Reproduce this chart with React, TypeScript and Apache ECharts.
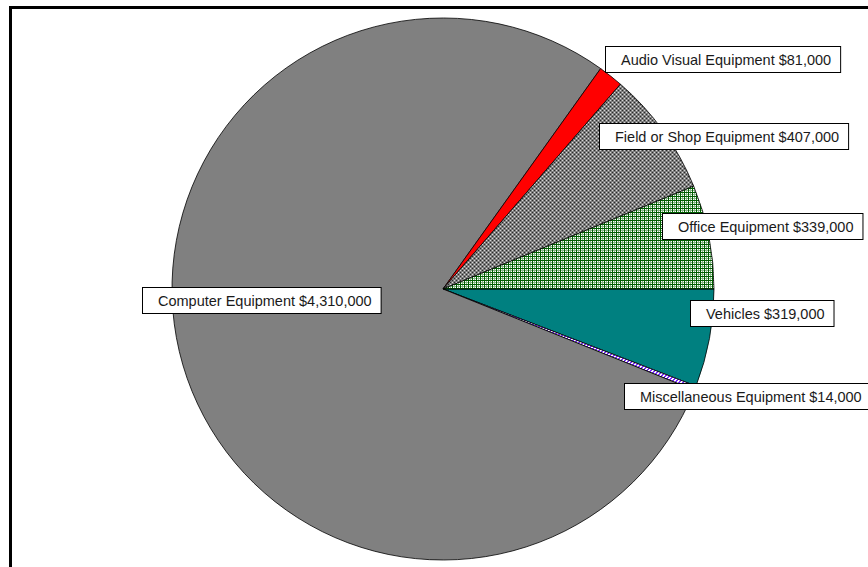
import React, { useEffect, useRef } from "react";
import * as echarts from "echarts";

const categories = [
  "Vehicles",
  "Miscellaneous Equipment",
  "Computer Equipment",
  "Audio Visual Equipment",
  "Field or Shop Equipment",
  "Office Equipment",
];
const values = [319000, 14000, 4310000, 81000, 407000, 339000];

function makePattern(size: number, draw: (ctx: CanvasRenderingContext2D) => void) {
  const c = document.createElement("canvas");
  c.width = size;
  c.height = size;
  const ctx = c.getContext("2d")!;
  draw(ctx);
  return { image: c.toDataURL(), repeat: "repeat", imageWidth: size, imageHeight: size } as any;
}

export default function App() {
  const ref = useRef<HTMLDivElement>(null);
  useEffect(() => {
    document.body.style.margin = "0";
    const chart = echarts.init(ref.current!, null, { renderer: "svg" });

    const px = (ctx: CanvasRenderingContext2D, x: number, y: number, col: string) => {
      ctx.fillStyle = col;
      ctx.fillRect(x, y, 1, 1);
    };
    const fieldPat = makePattern(4, (ctx) => {
      ctx.fillStyle = "#7e7e7e";
      ctx.fillRect(0, 0, 4, 4);
      px(ctx, 0, 0, "#2a2a2a");
      px(ctx, 2, 2, "#2a2a2a");
      px(ctx, 2, 0, "#d8d8d8");
      px(ctx, 0, 2, "#d8d8d8");
    });
    const officePat = makePattern(4, (ctx) => {
      ctx.fillStyle = "#ffffff";
      ctx.fillRect(0, 0, 4, 4);
      ctx.fillStyle = "#005e00";
      ctx.fillRect(0, 0, 4, 1);
      ctx.fillRect(0, 0, 1, 4);
      ctx.fillStyle = "#86b686";
      ctx.fillRect(2, 1, 1, 3);
      ctx.fillRect(1, 2, 3, 1);
    });
    const miscPat = makePattern(4, (ctx) => {
      ctx.fillStyle = "#ffffff";
      ctx.fillRect(0, 0, 4, 4);
      for (let y = 0; y < 4; y++)
        for (let x = 0; x < 4; x++) if ((x + y) % 4 < 2) px(ctx, x, y, "#7a2cff");
    });

    const fills: Record<string, any> = {
      Vehicles: "#008080",
      "Miscellaneous Equipment": miscPat,
      "Computer Equipment": "#808080",
      "Audio Visual Equipment": "#ff0000",
      "Field or Shop Equipment": fieldPat,
      "Office Equipment": officePat,
    };

    const labelPos: Record<string, [number, number]> = {
      Vehicles: [691, 301],
      "Miscellaneous Equipment": [625, 384],
      "Computer Equipment": [143, 288],
      "Audio Visual Equipment": [606, 47],
      "Field or Shop Equipment": [600, 124],
      "Office Equipment": [663, 214],
    };

    chart.setOption({
      animation: false,
      backgroundColor: "#ffffff",
      graphic: [
        {
          type: "rect",
          silent: true,
          z: 100,
          shape: { x: 10.5, y: 7.5, width: 1000, height: 1000 },
          style: { fill: "none", stroke: "#000000", lineWidth: 3 },
        },
      ],
      series: [
        {
          type: "pie",
          center: [443, 289],
          radius: 271,
          startAngle: 0,
          clockwise: true,
          avoidLabelOverlap: false,
          itemStyle: { borderColor: "#000000", borderWidth: 0.8 },
          emphasis: { disabled: true },
          labelLine: { show: false },
          label: {
            show: true,
            position: "outside",
            formatter: (p: any) => `${p.name} $${Number(p.value).toLocaleString("en-US")}`,
            color: "#1a1a1a",
            fontFamily: "Liberation Sans, Arial, sans-serif",
            fontSize: 14.5,
            lineHeight: 16,
            backgroundColor: "#ffffff",
            borderColor: "#000000",
            borderWidth: 1,
            padding: [5, 9, 4, 15],
          },
          labelLayout: (params: any) => {
            const name = categories[params.dataIndex];
            const pos = labelPos[name];
            return { x: pos[0], y: pos[1], align: "left", verticalAlign: "top" };
          },
          data: categories.map((name, i) => ({
            name,
            value: values[i],
            itemStyle: { color: fills[name] },
          })),
        },
      ],
    });
    return () => chart.dispose();
  }, []);
  return <div ref={ref} style={{ width: 868, height: 567 }} />;
}
